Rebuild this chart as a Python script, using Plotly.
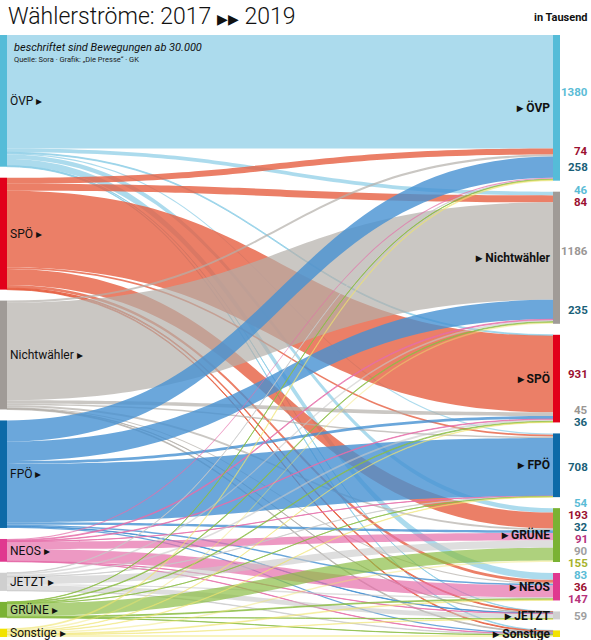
import plotly.graph_objects as go

# ---------------- data (in thousands of voters) ----------------
parties_2017 = ["ÖVP", "SPÖ", "Nichtwähler", "FPÖ", "NEOS", "JETZT", "GRÜNE", "Sonstige"]
parties_2019 = ["ÖVP", "Nichtwähler", "SPÖ", "FPÖ", "GRÜNE", "NEOS", "JETZT", "Sonstige"]

# each list: flows from one 2017 group into the 2019 groups (order of parties_2019)
from_oevp        = [1380,   46,  12,  15,  54,  83,  4,  8]
from_spoe        = [  74,   84, 931,  22, 193,  36, 12,  9]
from_nichtwaehler= [  25, 1186,  45,  18,  22,  14,  4, 10]
from_fpoe        = [ 258,  235,  36, 708,  32,  18,  5, 16]
from_neos        = [  14,   10,   6,   2,  91, 147,  3,  4]
from_jetzt       = [   5,   20,  22,   3,  90,  16, 59,  6]
from_gruene      = [   4,    8,   8,   1, 155,  10,  4,  2]
from_sonstige    = [  12,   18,   6,   6,  18,  10,  6, 25]

flows = [from_oevp, from_spoe, from_nichtwaehler, from_fpoe,
         from_neos, from_jetzt, from_gruene, from_sonstige]

label_threshold = 30

# ---------------- styles ----------------
node_colors = {
    "ÖVP": "#55bcd8", "SPÖ": "#e2001a", "Nichtwähler": "#a09b97", "FPÖ": "#0d6aa8",
    "NEOS": "#e0388f", "JETZT": "#cfcfcf", "GRÜNE": "#7ab233", "Sonstige": "#f2e300",
}
link_colors = {
    "ÖVP": "rgba(140,205,230,0.72)", "SPÖ": "rgba(230,95,65,0.8)",
    "Nichtwähler": "rgba(180,175,170,0.7)", "FPÖ": "rgba(70,145,210,0.8)",
    "NEOS": "rgba(230,110,170,0.7)", "JETZT": "rgba(200,200,200,0.6)",
    "GRÜNE": "rgba(140,190,70,0.7)", "Sonstige": "rgba(240,228,110,0.45)",
}
number_colors = {
    "ÖVP": "#5bbcd6", "SPÖ": "#9b1030", "Nichtwähler": "#9a9694", "FPÖ": "#1a5f78",
    "NEOS": "#b5307a", "JETZT": "#a0a0a0", "GRÜNE": "#a6b22a", "Sonstige": "#d6c800",
}

W, H = 591, 640
ML, MR, MT, MB = 0, 31, 35, 3
PW, PH = W - ML - MR, H - MT - MB
THICK = 7
PAD = 11
LINE_GAP = 12

n_src, n_tgt = len(parties_2017), len(parties_2019)
src_tot = [sum(r) for r in flows]
tgt_tot = [sum(flows[s][t] for s in range(n_src)) for t in range(n_tgt)]
total = sum(src_tot)
ky = (PH - (n_src - 1) * PAD) / total


def stack(values):
    tops, y = [], 0.0
    for v in values:
        tops.append(y)
        y += v * ky + PAD
    return tops


src_tops = stack(src_tot)
tgt_tops = stack(tgt_tot)

node_x = [THICK / 2 / PW] * n_src + [(PW - THICK / 2) / PW] * n_tgt
node_y = [(src_tops[i] + src_tot[i] * ky / 2) / PH for i in range(n_src)] + \
         [(tgt_tops[i] + tgt_tot[i] * ky / 2) / PH for i in range(n_tgt)]

labels = [f"{p} ▸" for p in parties_2017] + [f"<b>▸ {p}</b>" for p in parties_2019]
ncolors = [node_colors[p] for p in parties_2017] + [node_colors[p] for p in parties_2019]

src_idx, tgt_idx, vals, lcols = [], [], [], []
for s in range(n_src):
    for t in range(n_tgt):
        v = flows[s][t]
        if v > 0:
            src_idx.append(s)
            tgt_idx.append(n_src + t)
            vals.append(v)
            lcols.append(link_colors[parties_2017[s]])

fig = go.Figure(go.Sankey(
    arrangement="fixed",
    domain=dict(x=[0, 1], y=[0, 1]),
    node=dict(label=labels, color=ncolors, x=node_x, y=node_y,
              pad=PAD, thickness=THICK, line=dict(width=0),
              hoverinfo="skip"),
    link=dict(source=src_idx, target=tgt_idx, value=vals, color=lcols,
              hoverinfo="skip"),
    textfont=dict(family="Roboto, Noto Sans, sans-serif", size=12, color="#111",
                  shadow="none"),
))

# ---------------- numbers on the right ----------------
def place_group(ideals, gap):
    """Place labels of one target node: keep each at its flow centre, but split
    into clusters that are spaced `gap` apart and centred on their flows."""
    groups = [[y] for y in ideals]

    def start(g):
        return sum(g) / len(g) - (len(g) - 1) * gap / 2

    changed = True
    while changed:
        changed = False
        for i in range(len(groups) - 1):
            if start(groups[i]) + len(groups[i]) * gap > start(groups[i + 1]):
                groups[i] = groups[i] + groups[i + 1]
                del groups[i + 1]
                changed = True
                break
    out = []
    for g in groups:
        s0 = start(g)
        out += [s0 + k * gap for k in range(len(g))]
    return out


annotations = []
last_y = -1e9
for t in range(n_tgt):
    cum = 0.0
    ideals, vs, ps = [], [], []
    for s in range(n_src):
        v = flows[s][t]
        if v >= label_threshold:
            ideals.append(MT + tgt_tops[t] + (cum + v / 2) * ky)
            vs.append(v)
            ps.append(parties_2017[s])
        cum += v
    if not ideals:
        continue
    ys = place_group(ideals, LINE_GAP)
    shift = max(0.0, last_y + LINE_GAP - ys[0])
    ys = [y + shift for y in ys]
    last_y = ys[-1]
    for yc, v, p in zip(ys, vs, ps):
        annotations.append(dict(
            x=(W - 1 - ML) / PW, y=1 - (yc - MT) / PH, xref="paper", yref="paper",
            xanchor="right", yanchor="middle", showarrow=False, text=f"<b>{v}</b>",
            font=dict(family="Roboto, sans-serif", size=11.5, color=number_colors[p]),
        ))


def px(x):
    return (x - ML) / PW


def py(y):
    return 1 - (y - MT) / PH


annotations += [
    dict(x=px(6), y=py(16), xref="paper", yref="paper", xanchor="left", yanchor="middle",
         showarrow=False,
         text="Wählerströme: 2017 <span style='font-size:14px'>▶▶</span> 2019",
         font=dict(family="Roboto, sans-serif", size=23, color="#111", weight=300)),
    dict(x=px(W - 1), y=py(18), xref="paper", yref="paper", xanchor="right", yanchor="middle",
         showarrow=False, text="<b>in Tausend</b>",
         font=dict(family="Roboto, sans-serif", size=11, color="#111")),
    dict(x=px(12), y=py(47), xref="paper", yref="paper", xanchor="left", yanchor="middle",
         showarrow=False, text="<i>beschriftet sind Bewegungen ab 30.000</i>",
         font=dict(family="Roboto, sans-serif", size=11, color="#111")),
    dict(x=px(12), y=py(59), xref="paper", yref="paper", xanchor="left", yanchor="middle",
         showarrow=False, text="Quelle: Sora · Grafik: „Die Presse“ · GK",
         font=dict(family="Roboto, sans-serif", size=7.5, color="#222")),
]

fig.update_layout(
    width=W, height=H,
    margin=dict(l=ML, r=MR, t=MT, b=MB),
    paper_bgcolor="white", plot_bgcolor="white",
    annotations=annotations,
    showlegend=False,
)

fig.write_html("out.html", config={"displayModeBar": False},
               post_script="document.body.style.margin='0';")
